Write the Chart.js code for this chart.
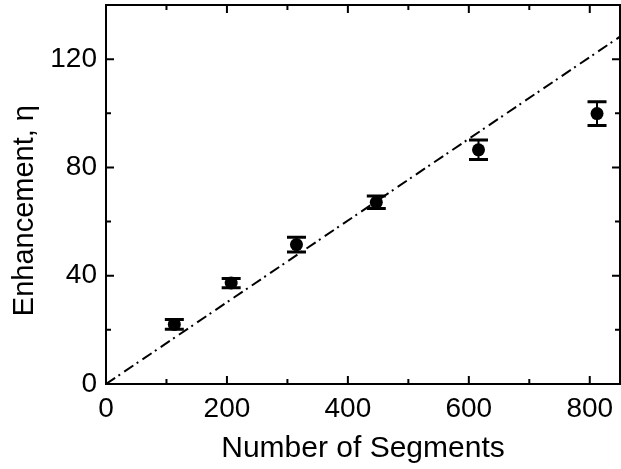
<!DOCTYPE html>
<html>
<head>
<script src="https://cdn.jsdelivr.net/npm/chart.js"></script>
<style>
    body { margin: 0; background: #fff; }
</style>
</head>
<body>
<canvas id="myChart" width="621" height="469"></canvas>

<script>
    // values
    var segments = [113, 207, 315, 447, 616, 812]
    var enhancement = [22.0, 37.3, 51.5, 67.1, 86.5, 99.9]
    var errors = [1.8, 1.7, 2.7, 2.3, 3.6, 4.4]

    // dash-dot guide line
    var fitX = [0, 850]
    var fitY = [0, 128.3]

    // tick values
    var xMajor = [0, 200, 400, 600, 800]
    var xMinor = [100, 300, 500, 700]
    var yMajor = [0, 40, 80, 120]
    var yMinor = [20, 60, 100, 140]

    var points = segments.map(function (s, i) { return {x: s, y: enhancement[i]} })
    var fitLine = fitX.map(function (s, i) { return {x: s, y: fitY[i]} })

    // error bars, drawn through the chart scales
    var errorBars = {
        id: 'errorBars',
        beforeDatasetsDraw: function (chart) {
            var ctx = chart.ctx
            var xs = chart.scales.x, ys = chart.scales.y
            ctx.save()
            ctx.strokeStyle = '#000'
            for (var i = 0; i < segments.length; i++) {
                var px = xs.getPixelForValue(segments[i])
                var top = ys.getPixelForValue(enhancement[i] + errors[i])
                var bot = ys.getPixelForValue(enhancement[i] - errors[i])
                ctx.lineWidth = 2
                ctx.beginPath()
                ctx.moveTo(px, top)
                ctx.lineTo(px, bot)
                ctx.stroke()
                ctx.lineWidth = 3
                ctx.beginPath()
                ctx.moveTo(px - 9.5, top)
                ctx.lineTo(px + 9.5, top)
                ctx.moveTo(px - 9.5, bot)
                ctx.lineTo(px + 9.5, bot)
                ctx.stroke()
            }
            ctx.restore()
        }
    }

    // box frame with inward ticks on all four sides
    var frame = {
        id: 'frame',
        afterDatasetsDraw: function (chart) {
            var ctx = chart.ctx, a = chart.chartArea
            var xs = chart.scales.x, ys = chart.scales.y
            ctx.save()
            ctx.strokeStyle = '#000'
            ctx.lineWidth = 2
            ctx.strokeRect(a.left, a.top, a.right - a.left, a.bottom - a.top)
            ctx.beginPath()
            function xTick(v, len) {
                var px = xs.getPixelForValue(v)
                ctx.moveTo(px, a.bottom); ctx.lineTo(px, a.bottom - len)
                ctx.moveTo(px, a.top); ctx.lineTo(px, a.top + len)
            }
            function yTick(v, len) {
                var py = ys.getPixelForValue(v)
                ctx.moveTo(a.left, py); ctx.lineTo(a.left + len, py)
                ctx.moveTo(a.right, py); ctx.lineTo(a.right - len, py)
            }
            xMajor.forEach(function (v) { xTick(v, 8) })
            xMinor.forEach(function (v) { xTick(v, 5) })
            yMajor.forEach(function (v) { yTick(v, 8) })
            yMinor.forEach(function (v) { yTick(v, 5) })
            ctx.stroke()
            ctx.restore()
        }
    }

    var tickFont = {family: 'Liberation Sans', size: 28}

    var ctx = document.getElementById('myChart').getContext('2d')
    var myChart = new Chart(ctx, {
        data: {
            datasets: [
                {
                    type: 'line',
                    data: fitLine,
                    borderColor: '#000',
                    borderWidth: 2,
                    borderDash: [11, 4, 2, 5],
                    pointRadius: 0,
                    fill: false
                },
                {
                    type: 'scatter',
                    data: points,
                    backgroundColor: '#000',
                    borderWidth: 0,
                    pointRadius: 6.5
                }
            ]
        },
        options: {
            responsive: false,
            animation: false,
            layout: {autoPadding: false, padding: {top: 5, right: 1}},
            plugins: {legend: {display: false}, tooltip: {enabled: false}},
            scales: {
                x: {
                    type: 'linear',
                    min: 0,
                    max: 850,
                    grid: {display: false, drawTicks: false},
                    border: {display: false},
                    ticks: {
                        stepSize: 100,
                        includeBounds: false,
                        autoSkip: false,
                        maxRotation: 0,
                        padding: 8,
                        color: '#000',
                        font: tickFont,
                        callback: function (v) { return xMajor.indexOf(v) >= 0 ? v : '' }
                    },
                    title: {
                        display: true,
                        text: 'Number of Segments',
                        color: '#000',
                        font: {family: 'Liberation Sans', size: 30},
                        padding: {top: 2, bottom: 2}
                    },
                    afterFit: function (scale) {
                        scale.height = 85
                        scale.paddingLeft = 0
                        scale.paddingRight = 0
                    }
                },
                y: {
                    min: 0,
                    max: 140,
                    grid: {display: false, drawTicks: false},
                    border: {display: false},
                    ticks: {
                        stepSize: 20,
                        autoSkip: false,
                        padding: 9,
                        color: '#000',
                        font: tickFont,
                        callback: function (v) { return yMajor.indexOf(v) >= 0 ? v : '' }
                    },
                    title: {
                        display: true,
                        text: 'Enhancement, \u03b7    ',
                        color: '#000',
                        font: {family: 'Liberation Sans', size: 29},
                        padding: {top: 8, bottom: 8}
                    },
                    afterFit: function (scale) {
                        scale.width = 106
                        scale.paddingTop = 0
                        scale.paddingBottom = 0
                    }
                }
            }
        },
        plugins: [errorBars, frame]
    })
</script>
</body>
</html>
